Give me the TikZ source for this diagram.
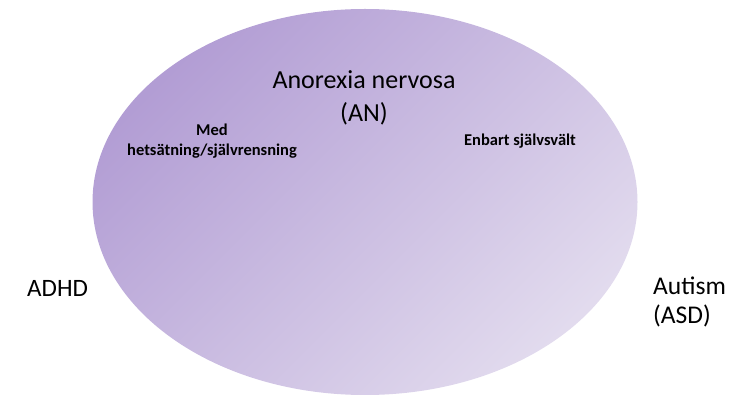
\documentclass[tikz,border=0pt]{standalone}
\usepackage{fontspec}
\setmainfont{Carlito}
\definecolor{lilacdark}{RGB}{178,157,212}
\definecolor{lilaclight}{RGB}{226,219,238}
\tikzset{
  bigtext/.style={font=\fontsize{25}{32}\selectfont, inner sep=0pt, text=black},
  smalltext/.style={font=\bfseries\fontsize{16.5}{19.7}\selectfont, inner sep=0pt, text=black},
}
\begin{document}
\begin{tikzpicture}[x=1pt, y=-1pt]
  \useasboundingbox (0,0) rectangle (749,395);
  % shaded oval for anorexia nervosa
  \shade[top color=lilacdark, bottom color=lilaclight, shading angle=45]
    (365,202) ellipse [x radius=272.5, y radius=193];
  % multi-line nodes are anchored at the baseline of their last line
  \node[bigtext, align=center, anchor=base, font=\fontsize{26}{32.5}\selectfont] (an) at (364,121.5) {Anorexia nervosa\\(AN)};
  \node[smalltext, align=center, anchor=base] (med) at (212,155.7) {Med\\hetsätning/självrensning};
  \node[smalltext, anchor=base] (enbart) at (520,146) {Enbart självsvält};
  \node[bigtext, anchor=base west] (adhd) at (27,296) {ADHD};
  \node[bigtext, align=left, anchor=base west, font=\fontsize{25.5}{29}\selectfont] (asd) at (653,323) {Autism\\(ASD)};
\end{tikzpicture}
\end{document}
